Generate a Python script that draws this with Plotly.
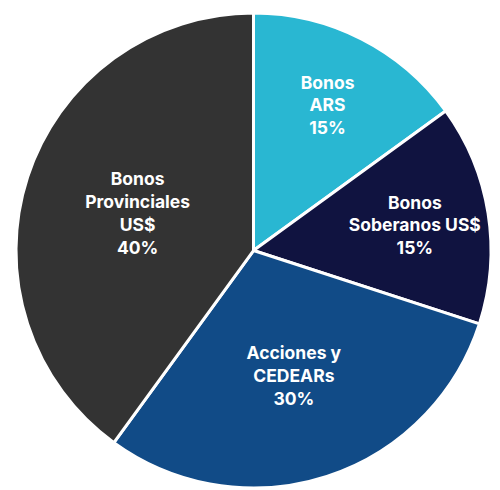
import plotly.graph_objects as go

labels = ["Bonos<br>ARS", "Bonos<br>Soberanos US$", "Acciones y<br>CEDEARs", "Bonos<br>Provinciales<br>US$"]
values = [15, 15, 30, 40]
colors = ["#29B7D2", "#101340", "#114B87", "#333333"]

fig = go.Figure(
    go.Pie(
        labels=labels,
        values=values,
        sort=False,
        direction="clockwise",
        rotation=0,
        marker=dict(colors=colors, line=dict(color="#FFFFFF", width=3)),
        texttemplate="<b>%{label}<br>%{value}%</b>",
        textposition="inside",
        insidetextorientation="horizontal",
        textfont=dict(family="Inter", size=17.5, color="#FFFFFF"),
        hoverinfo="skip",
        showlegend=False,
        domain=dict(x=[0.032, 0.982], y=[0.004, 0.9735]),
    )
)
fig.update_layout(
    width=500,
    height=490,
    margin=dict(l=0, r=0, t=0, b=0),
    paper_bgcolor="#FFFFFF",
    plot_bgcolor="#FFFFFF",
)
fig.write_html("out.html")
